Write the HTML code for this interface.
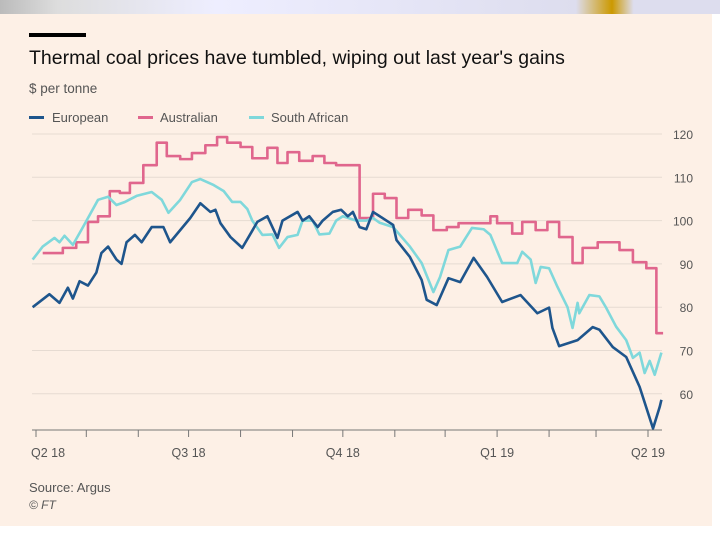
<!DOCTYPE html>
<html><head><meta charset="utf-8"><style>
body{margin:0;width:720px;height:540px;background:#fff;overflow:hidden;font-family:"Liberation Sans",sans-serif}
#top{position:absolute;left:0;top:0;width:720px;height:14px;background:linear-gradient(90deg,#bbb 0,#ddd 8%,#eef 30%,#dde 80%,#c90 85%,#dde 88%)}
#card{position:absolute;left:0;top:14px;width:712px;height:512px;background:#fdf0e6}
</style></head><body>
<div id="top"></div>
<div id="card"></div>
<svg width="720" height="540" style="position:absolute;left:0;top:0">
<rect x="29" y="33" width="57" height="4" fill="#000"/>
<text x="29" y="64" font-size="19.5" fill="#111">Thermal coal prices have tumbled, wiping out last year's gains</text>
<text x="29" y="93" font-size="13.5" fill="#555">$ per tonne</text>
<g>
<g><rect x="29" y="116" width="15" height="3" fill="#1e558c"/><text x="52" y="122" font-size="13" fill="#555">European</text></g>
<g><rect x="138" y="116" width="15" height="3" fill="#e0668d"/><text x="160" y="122" font-size="13" fill="#555">Australian</text></g>
<g><rect x="249" y="116" width="15" height="3" fill="#7fd8db"/><text x="271" y="122" font-size="13" fill="#555">South African</text></g>
</g>
<g id="grid"></g><g id="series"></g><g id="axes"></g>
<text x="29" y="492" font-size="13" fill="#555">Source: Argus</text>
<text x="29" y="509" font-size="12" font-style="italic" fill="#555">© FT</text>
</svg>
<script>
const yTicks=[60,70,80,90,100,110,120];
const xTickLabels=["Q2 18","Q3 18","Q4 18","Q1 19","Q2 19"];
const xTickDays=[0,91,183,275,365];
const monthDays=[0,30,61,91,122,153,183,214,244,275,306,334,365];
const euDays=[-2,8,14,19,22,26,31,36,39,43,48,51,54,59,63,69,76,80,86,92,98,104,107,110,116,123,128,132,138,144,147,156,159,163,168,171,177,182,186,189,193,197,201,205,213,215,223,230,233,239,246,253,261,269,278,289,299,306,308,312,323,332,336,344,352,360,368,372,373];
const euVals=[80,83,81,84.5,82,86,85,88,92.5,94,91,90,95,96.7,95,98.5,98.5,95,97.8,100.6,104,102,102.5,99.4,96.2,93.7,97,99.7,101,96,100,102,100,101,98.5,100,102,102.5,101,102,98.5,98,102,101,99,95.5,91.6,86.3,81.7,80.5,86.7,85.8,91.4,87,81.2,82.8,78.6,79.9,75.2,71,72.4,75.4,74.8,70.8,68.5,61.6,52,57,58.6];
const auDays=[4,16,24,31,37,44,50,56,64,72,78,86,93,101,108,114,122,129,138,144,150,157,165,172,179,193,201,208,215,222,230,237,245,252,271,275,284,290,298,305,312,320,326,335,348,356,364,370,374];
const auVals=[92.5,93.7,95,99.7,101,106.8,106.4,108.7,112.8,118,114.9,114.2,115.6,117.4,119.3,118,117,114.4,116.8,113.3,115.8,113.8,114.9,113.3,112.8,100.6,106.2,105.2,100.6,102.5,101.2,97.8,98.5,99.4,101,99.4,97,99.7,97.8,99.7,96.2,90.2,93.7,95,93.2,90.4,89,74,74];
const saDays=[-2,4,11,14,17,22,28,32,37,43,48,53,60,69,75,79,86,93,98,106,112,117,122,126,129,135,141,145,150,156,159,165,169,175,179,183,191,197,201,205,213,223,230,237,241,246,253,260,267,271,278,287,290,295,298,301,306,311,317,320,323,324,330,336,340,346,352,356,360,363,366,369,373];
const saVals=[91,94,96,95,96.5,94.4,98.5,101.3,104.8,105.5,103.6,104.3,105.7,106.6,104.8,101.8,104.8,108.9,109.6,108.2,106.8,104.3,104.3,102.7,100,96.7,96.8,93.7,96.2,96.7,100,100,96.8,97,100,101,100,100,100.6,99.5,98.5,94,90.2,83.5,87,93.2,94,98.3,98,96.7,90.2,90.2,92.8,91,85.6,89.3,89,84.7,80,75.2,81,78.6,82.8,82.5,79.9,75.5,72.4,68.3,69.5,64.8,67.6,64.4,69.5];
const NS="http://www.w3.org/2000/svg";
const X0=36,PXD=612/365,Y120=134,PXV=4.33;
const xs=d=>X0+d*PXD, ys=v=>Y120+(120-v)*PXV;
function mk(t,a,p){const e=document.createElementNS(NS,t);for(const k in a)e.setAttribute(k,a[k]);p.appendChild(e);return e;}
const grid=document.getElementById('grid'),axes=document.getElementById('axes'),ser=document.getElementById('series');
yTicks.forEach(v=>{
 const l=mk('line',{x1:32,x2:662,y1:ys(v),y2:ys(v),stroke:'#e6dbd2','stroke-width':1},grid);
 
 
 const t=mk('text',{x:693,y:ys(v)+5,'text-anchor':'end','font-size':12,fill:'#555'},axes);
 t.textContent=v;
 
 
});
const ax=mk('line',{x1:32,x2:662,y1:430,y2:430,stroke:'#777','stroke-width':1},axes);


monthDays.forEach(d=>{const m=mk('line',{x1:xs(d),x2:xs(d),y1:430,y2:437,stroke:'#777'},axes);
 
 });
xTickLabels.forEach((s,i)=>{
 let x=xs(xTickDays[i]),anc='middle';
 if(i===0){x=31;anc='start';} if(i===4){x=665;anc='end';}
 const t=mk('text',{x:x,y:457,'text-anchor':anc,'font-size':12.5,fill:'#555'},axes);
 t.textContent=s;
 
 
});
function line(days,vals,step){
 let d='';
 days.forEach((dd,i)=>{
  const x=xs(dd),y=ys(vals[i]);
  if(i===0)d+='M'+x+' '+y;
  else if(step)d+=' H'+x+' V'+y;
  else d+=' L'+x+' '+y;
 });
 return d;
}
const pA=mk('path',{d:line(auDays,auVals,true),fill:'none',stroke:'#e0668d','stroke-width':2.6,'stroke-linejoin':'round'},ser);


const pS=mk('path',{d:line(saDays,saVals,false),fill:'none',stroke:'#7fd8db','stroke-width':2.6,'stroke-linejoin':'round'},ser);


const pE=mk('path',{d:line(euDays,euVals,false),fill:'none',stroke:'#1e558c','stroke-width':2.6,'stroke-linejoin':'round'},ser);


</script>
</body></html>
